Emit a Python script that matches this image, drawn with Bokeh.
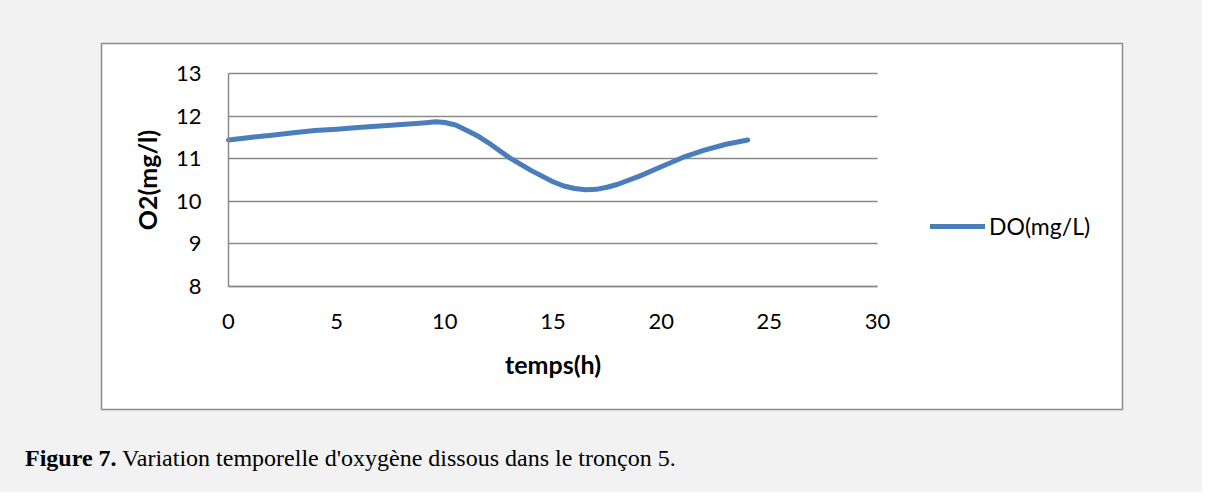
from bokeh.plotting import figure
from bokeh.models import FixedTicker, Legend, LegendItem, Div, Range1d
from bokeh.layouts import column
from bokeh.embed import file_html
from bokeh.resources import INLINE

# ---- data ----
hours = [0, 1, 2, 3, 4, 5, 6, 7, 8, 9, 9.6, 10, 10.5, 11, 11.5, 12, 13, 14, 15, 15.5, 16, 16.5, 17, 17.5,
         18, 19, 20, 21, 22, 23, 24]
do_mg_l = [11.44, 11.50, 11.55, 11.61, 11.66, 11.69, 11.73, 11.77, 11.80, 11.84, 11.87, 11.85, 11.79, 11.67,
           11.54, 11.38, 11.02, 10.72, 10.46, 10.36, 10.30, 10.27, 10.28, 10.33, 10.40, 10.59, 10.81,
           11.03, 11.20, 11.34, 11.44]
x_ticks = [0, 5, 10, 15, 20, 25, 30]
y_ticks = [8, 9, 10, 11, 12, 13]
series_name = "DO(mg/L)"
x_label = "temps(h)"
y_label = "O2(mg/l)"
caption_bold = "Figure 7."
caption_text = "Variation temporelle d'oxygène dissous dans le tronçon 5."

# ---- layout (pixels inside the figure canvas) ----
W, H = 1192, 433
FL, FR, FT, FB = 101, 1122, 43, 409          # white chart box = frame
PX0, PX1, PY0, PY1 = 228, 877, 73, 286       # plot area for x 0..30, y 8..13
X0, X1, Y0, Y1 = 0, 30, 8, 13
xpp = (X1 - X0) / (PX1 - PX0)
ypp = (Y1 - Y0) / (PY1 - PY0)
x_range = Range1d(X0 - (PX0 - FL) * xpp, X1 + (FR - PX1) * xpp)
y_range = Range1d(Y0 - (FB - PY1) * ypp, Y1 + (PY0 - FT) * ypp)

GRID = "#8a8a8a"
BLUE = "#4a7ebb"
FONT = "Lato"

p = figure(width=W, height=H, x_range=x_range, y_range=y_range,
           output_backend="svg", toolbar_location=None,
           min_border_left=FL, min_border_right=W - FR,
           min_border_top=FT, min_border_bottom=H - FB)
p.title.visible = False
p.background_fill_color = "white"
p.border_fill_color = "#f2f2f2"
p.outline_line_color = "#8c8c8c"
p.outline_line_width = 1.5

xt = FixedTicker(ticks=x_ticks)
yt = FixedTicker(ticks=y_ticks)

xa = p.xaxis[0]
ya = p.yaxis[0]
xa.fixed_location = Y0
ya.fixed_location = X0
xa.ticker = xt
ya.ticker = yt
xa.bounds = (X0, X1)
ya.bounds = (Y0, Y1)
for a in (xa, ya):
    a.axis_line_color = GRID
    a.axis_line_width = 1.5
    a.major_tick_line_color = None
    a.minor_tick_line_color = None
    a.major_label_text_font = FONT
    a.major_label_text_font_size = "22px"
    a.major_label_text_color = "black"
    a.axis_label_text_font = FONT
    a.axis_label_text_font_style = "bold"
    a.axis_label_text_font_size = "25px"
    a.axis_label_text_color = "black"
xa.axis_label = x_label
ya.axis_label = y_label
xa.major_label_standoff = 21
ya.major_label_standoff = 21
xa.axis_label_standoff = 17
ya.axis_label_standoff = 11

p.xgrid.visible = False
g = p.ygrid[0]
g.ticker = yt
g.grid_line_color = GRID
g.grid_line_width = 1.5
if "cross_bounds" in g.properties():
    g.cross_bounds = (X0, X1)
else:
    g.visible = False
    p.segment(x0=[X0] * len(y_ticks), y0=y_ticks, x1=[X1] * len(y_ticks), y1=y_ticks,
              line_color=GRID, line_width=1.5)

r = p.line(hours, do_mg_l, line_width=5, color=BLUE, line_cap="round", line_join="round")

legend = Legend(items=[LegendItem(label=series_name, renderers=[r])],
                location=(829, 169), padding=0, margin=0,
                glyph_width=55, glyph_height=28, label_height=28, label_standoff=4,
                label_text_font=FONT, label_text_font_size="23px", label_text_color="black",
                border_line_color=None, background_fill_alpha=0)
p.add_layout(legend)

caption = Div(
    text=('<div style="position:relative; left:20px; top:6px; white-space:nowrap; '
          'font-family:\'Liberation Serif\', \'Times New Roman\', serif; font-size:24px; '
          'line-height:28px; color:black;">'
          f'<b>{caption_bold}</b> {caption_text}</div>'),
    width=W, height=482 - H, styles={"background-color": "#f2f2f2"})

root = column(p, caption, styles={"background-color": "#f2f2f2"})

open("out.html", "w").write(file_html(root, INLINE))
